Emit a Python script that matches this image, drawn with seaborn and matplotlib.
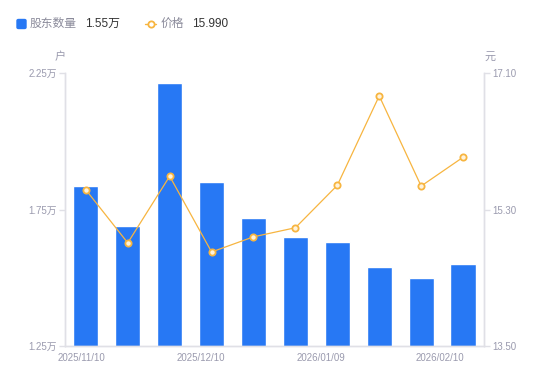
import numpy as np
import pandas as pd
import seaborn as sns
import matplotlib.pyplot as plt
from matplotlib.lines import Line2D
from matplotlib.patches import FancyBboxPatch

# data
dates = ["2025/11/10", "2025/11/20", "2025/11/30", "2025/12/10", "2025/12/19",
         "2025/12/31", "2026/01/09", "2026/01/20", "2026/01/30", "2026/02/10"]
holders = [1.838, 1.69, 2.215, 1.852, 1.72, 1.65, 1.632, 1.54, 1.50, 1.55]   # 万户
price = [15.56, 14.86, 15.74, 14.74, 14.94, 15.06, 15.62, 16.80, 15.61, 15.99]  # 元
xtick_labels = ["2025/11/10", "2025/12/10", "2026/01/09", "2026/02/10"]
left_ticks = [1.25, 1.75, 2.25]
right_ticks = [13.50, 15.30, 17.10]

df = pd.DataFrame({"date": dates, "holders": holders, "price": price})

sns.set_theme(style="white")
plt.rcParams['font.family'] = ['Liberation Sans', 'Noto Sans CJK SC']

BLUE = "#2778F4"
ORANGE = "#F7B540"
TICK = "#9A9AAE"
AXIS = "#E0E0E6"

fig = plt.figure(figsize=(5.5, 3.81), dpi=100)
ax = fig.add_axes([0.118, 0.092, 0.762, 0.716])

sns.barplot(data=df, x="date", y="holders", color=BLUE, width=0.6,
            saturation=1, ax=ax)
ax.set_ylim(1.25, 2.25)
ax.set_xlim(-0.5, len(dates) - 0.5)

ax2 = ax.twinx()
ax2.plot(np.arange(len(dates)), df["price"], color=ORANGE, lw=0.9,
         marker="o", ms=4.5, mfc="#FFF3DC", mec=ORANGE, mew=1.3)
ax2.set_ylim(13.5, 17.1)

ax.set_yticks(left_ticks)
ax.set_yticklabels([f"{v:.2f}万" for v in left_ticks])
ax2.set_yticks(right_ticks)
ax2.set_yticklabels([f"{v:.2f}" for v in right_ticks])
ax.set_xticks(np.linspace(-0.1, 8.45, 4))
ax.set_xticklabels(xtick_labels)
ax.set_xlabel("")
ax.set_ylabel("")

for a in (ax, ax2):
    for s in a.spines.values():
        s.set_color(AXIS)
        s.set_linewidth(1)
    a.spines["top"].set_visible(False)
    a.tick_params(axis="both", colors=AXIS, labelcolor=TICK, labelsize=7,
                  length=4, width=1, pad=2)
ax.tick_params(axis="x", length=0, pad=5)
ax.grid(False)
ax2.grid(False)

fig.text(60 / 550, 1 - 57 / 381, "户", ha="center", va="center", fontsize=8, color=TICK)
fig.text(490 / 550, 1 - 57 / 381, "元", ha="center", va="center", fontsize=8, color=TICK)

# legend
ly = 1 - 24 / 381
fig.patches.append(FancyBboxPatch((17 / 550, ly - 4.5 / 381), 9 / 550, 9 / 381,
                                  boxstyle="round,pad=0,rounding_size=0.003",
                                  transform=fig.transFigure, color=BLUE))
fig.text(30 / 550, ly, "股东数量", ha="left", va="center", fontsize=8.5, color="#8A8A9A")
fig.text(85 / 550, ly, "1.55万", ha="left", va="center", fontsize=8.5, color="#333333")
fig.lines.append(Line2D([145 / 550, 156 / 550], [ly, ly], transform=fig.transFigure,
                        color=ORANGE, lw=1))
fig.lines.append(Line2D([150.5 / 550], [ly], transform=fig.transFigure,
                        color=ORANGE, marker="o", ms=4.5, mfc="white", mec=ORANGE, mew=1.3))
fig.text(161 / 550, ly, "价格", ha="left", va="center", fontsize=8.5, color="#8A8A9A")
fig.text(192 / 550, ly, "15.990", ha="left", va="center", fontsize=8.5, color="#333333")

fig.savefig("out.png", dpi=100)
